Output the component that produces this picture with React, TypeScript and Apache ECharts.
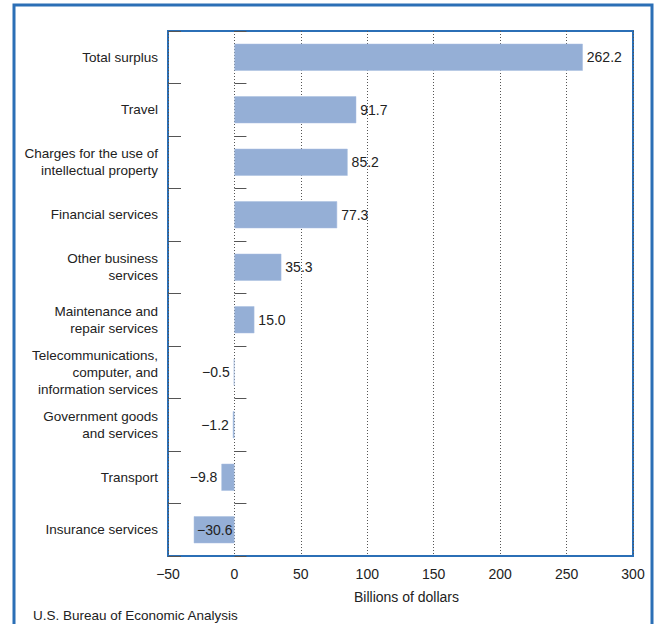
import React, { useEffect, useRef } from "react";
import * as echarts from "echarts";

const categories = [
  "Total surplus",
  "Travel",
  "Charges for the use of\nintellectual property",
  "Financial services",
  "Other business\nservices",
  "Maintenance and\nrepair services",
  "Telecommunications,\ncomputer, and\ninformation services",
  "Government goods\nand services",
  "Transport",
  "Insurance services",
];
const values = [262.2, 91.7, 85.2, 77.3, 35.3, 15.0, -0.5, -1.2, -9.8, -30.6];
const xTicks = [-50, 0, 50, 100, 150, 200, 250, 300];
const xAxisName = "Billions of dollars";
const sourceText = "U.S. Bureau of Economic Analysis";

const FONT = "'Liberation Sans', Arial, Helvetica, sans-serif";
const BLUE = "#2b6fb6";
const BAR = "#95afd6";
const TEXT = "#222";

const fmt = (v: number) => {
  const s = Math.abs(v).toFixed(1);
  return v < 0 ? "\u2212" + s : s;
};
const fmtTick = (v: number) => (v < 0 ? "\u2212" + Math.abs(v) : String(v));

export default function App() {
  const ref = useRef<HTMLDivElement>(null);
  useEffect(() => {
    if (!ref.current) return;
    const chart = echarts.init(ref.current, undefined, { renderer: "svg" });
    const data = values.map((v, i) => {
      const item: any = { value: v };
      if (v < 0) {
        item.label = {
          position: i === values.length - 1 ? "insideRight" : "left",
          distance: i === values.length - 1 ? 2 : 4,
        };
      }
      return item;
    });
    chart.setOption({
      animation: false,
      textStyle: { fontFamily: FONT },
      grid: {
        left: 168,
        top: 31,
        right: 22,
        bottom: 68,
        show: true,
        borderColor: BLUE,
        borderWidth: 2,
        backgroundColor: "transparent",
        containLabel: false,
      },
      xAxis: {
        type: "value",
        min: xTicks[0],
        max: xTicks[xTicks.length - 1],
        interval: 50,
        axisLine: { show: false },
        axisTick: { show: false },
        axisLabel: {
          color: TEXT,
          fontSize: 14,
          margin: 11,
          fontFamily: FONT,
          formatter: (v: number) => fmtTick(v),
        },
        splitLine: {
          show: true,
          lineStyle: { color: "#555", type: [1, 2], width: 1 },
        },
        name: xAxisName,
        nameLocation: "middle",
        nameGap: 34,
        nameTextStyle: { color: TEXT, fontSize: 14, fontFamily: FONT, padding: [0, 0, 0, 12] },
      },
      yAxis: [
        {
          type: "category",
          data: categories,
          inverse: true,
          position: "left",
          axisLine: { show: false, onZero: false },
          axisTick: {
            show: true,
            inside: true,
            length: 13,
            lineStyle: { color: "#555", width: 1 },
          },
          axisLabel: {
            color: TEXT,
            fontSize: 13.5,
            lineHeight: 17,
            margin: 10,
            align: "right",
            fontFamily: FONT,
          },
          splitLine: { show: false },
        },
        {
          type: "category",
          data: categories,
          inverse: true,
          position: "left",
          axisLine: { show: false, onZero: true },
          axisTick: {
            show: true,
            inside: true,
            length: 12,
            lineStyle: { color: "#555", width: 1 },
          },
          axisLabel: { show: false },
          splitLine: { show: false },
        },
      ],
      series: [
        {
          type: "bar",
          yAxisIndex: 0,
          data,
          barWidth: 27,
          itemStyle: { color: BAR, borderColor: "#a9bfe0", borderWidth: 0.5 },
          label: {
            show: true,
            position: "right",
            distance: 4,
            color: TEXT,
            fontSize: 14,
            fontFamily: FONT,
            formatter: (p: any) => fmt(p.value),
          },
        },
      ],
      graphic: [
        {
          type: "rect",
          shape: { x: 14, y: 5, width: 638, height: 660 },
          style: { fill: "none", stroke: BLUE, lineWidth: 3 },
          silent: true,
        },
        {
          type: "text",
          left: 33,
          top: 608,
          style: { text: sourceText, fill: TEXT, fontSize: 13.5, fontFamily: FONT },
        },
      ],
    });
    return () => chart.dispose();
  }, []);
  return (
    <div
      ref={ref}
      style={{ position: "fixed", left: 0, top: 0, width: 655, height: 624, background: "#fff" }}
    />
  );
}
